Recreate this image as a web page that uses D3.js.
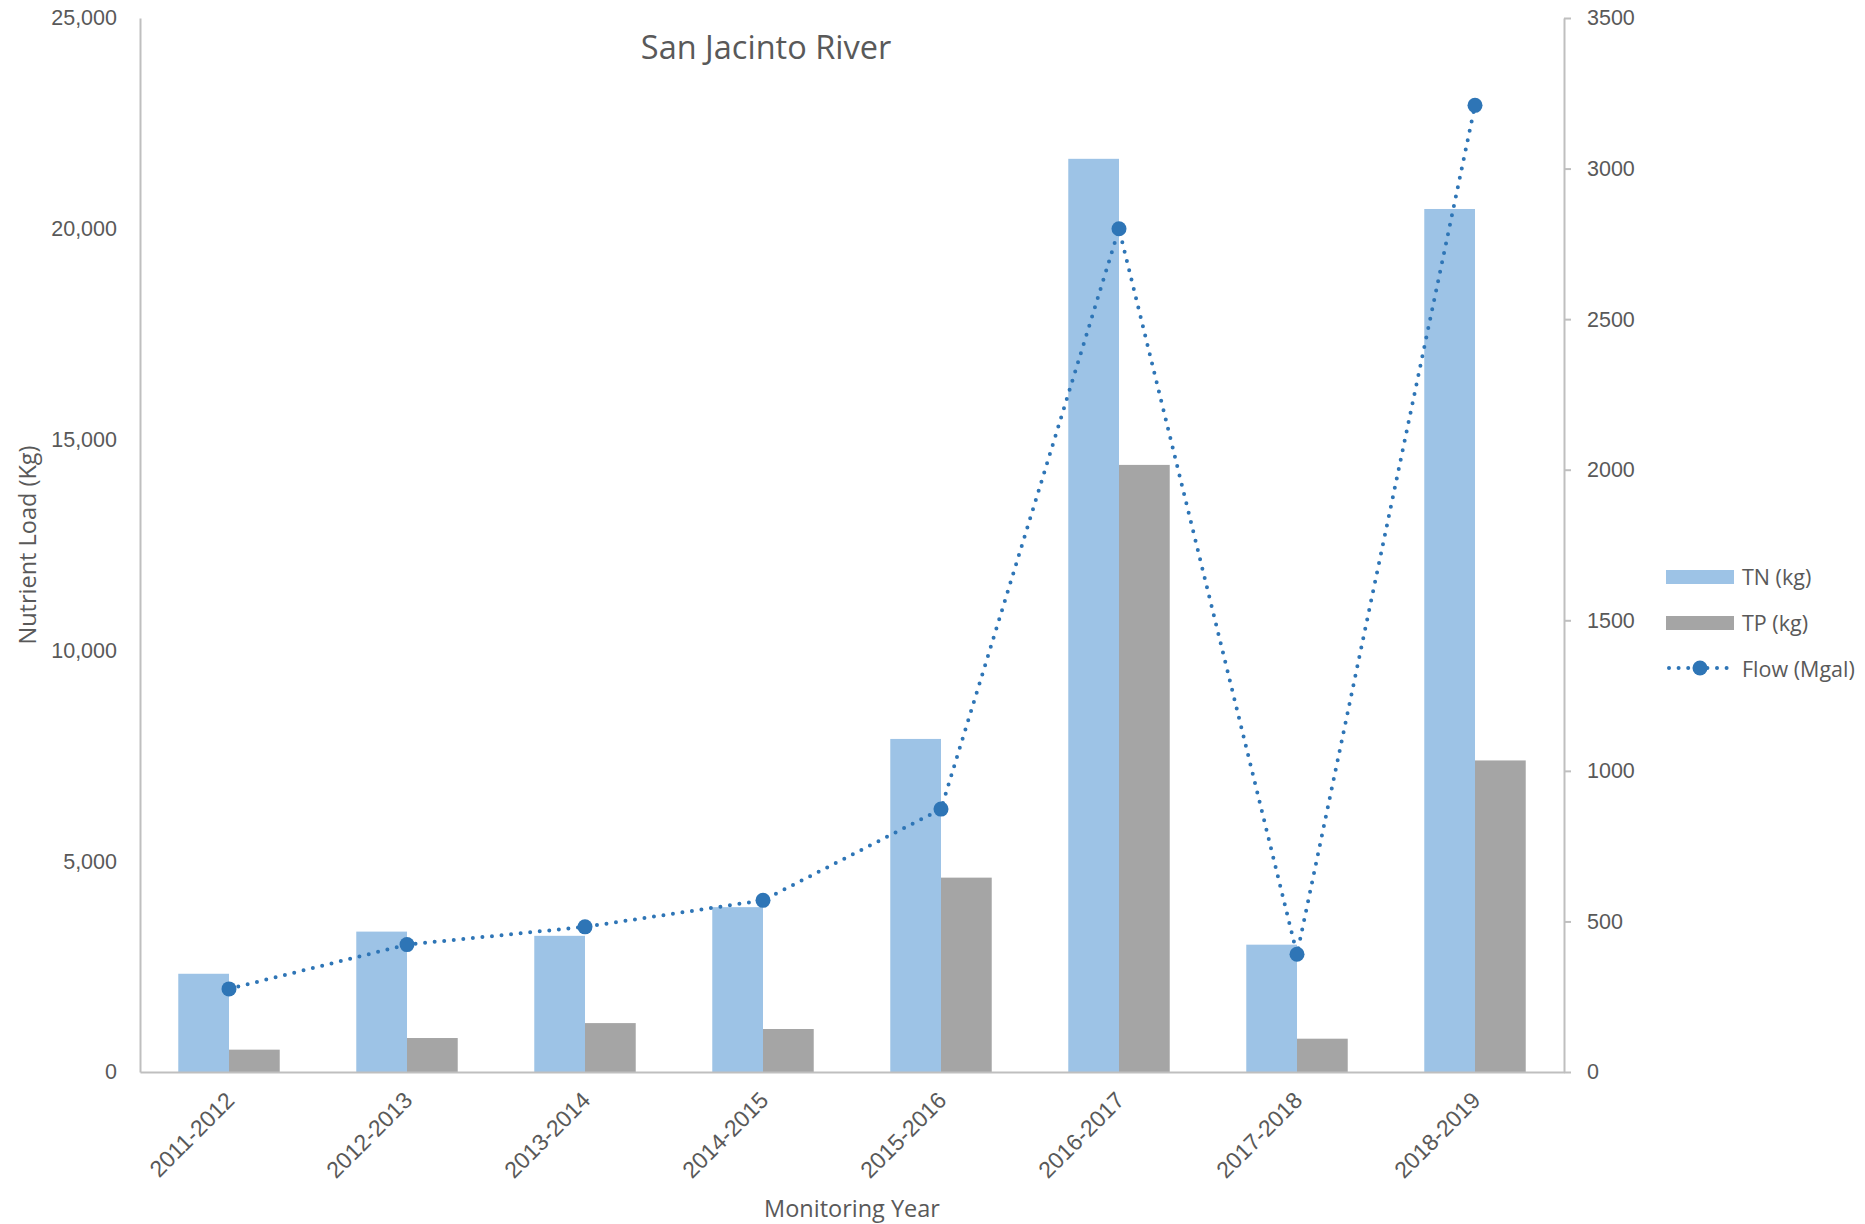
<!DOCTYPE html>
<html>
<head>
<meta charset="utf-8">
<script src="https://cdn.jsdelivr.net/npm/d3@7"></script>
<style>
  html, body { margin: 0; padding: 0; background: #fff; }
  svg { display: block; font-family: "Open Sans", "Segoe UI", sans-serif; }
</style>
</head>
<body>
<svg id="chart" width="1865" height="1224"></svg>
<script>
// Monitoring years and loads for the San Jacinto River
const years = ["2011-2012", "2012-2013", "2013-2014", "2014-2015", "2015-2016", "2016-2017", "2017-2018", "2018-2019"];
const tnKg = [2330, 3330, 3230, 3910, 7900, 21660, 3020, 20470];
const tpKg = [530, 806, 1160, 1020, 4610, 14400, 790, 7390];
const flowMgal = [276, 423, 482, 570, 873, 2800, 391, 3210];
const leftTicks = [0, 5000, 10000, 15000, 20000, 25000];
const rightTicks = [0, 500, 1000, 1500, 2000, 2500, 3000, 3500];
const seriesNames = ["TN (kg)", "TP (kg)", "Flow (Mgal)"];

const colors = { tn: "#9DC3E6", tp: "#A5A5A5", flow: "#2E75B6", axis: "#BFBFBF", text: "#595959" };

const svg = d3.select("#chart");
const plot = { left: 140, right: 1564, top: 18, bottom: 1072 };

const x = d3.scaleBand().domain(years).range([plot.left, plot.right]).paddingInner(0.43).paddingOuter(0.215);
const yLeft = d3.scaleLinear().domain([0, 25000]).range([plot.bottom, plot.top]);
const yRight = d3.scaleLinear().domain([0, 3500]).range([plot.bottom, plot.top]);
const half = x.bandwidth() / 2;

// Bars
const g = svg.append("g");
g.selectAll("rect.tn").data(years).join("rect")
  .attr("x", d => x(d)).attr("width", half)
  .attr("y", (d, i) => yLeft(tnKg[i])).attr("height", (d, i) => yLeft(0) - yLeft(tnKg[i]))
  .attr("fill", colors.tn);
g.selectAll("rect.tp").data(years).join("rect")
  .attr("x", d => x(d) + half).attr("width", half)
  .attr("y", (d, i) => yLeft(tpKg[i])).attr("height", (d, i) => yLeft(0) - yLeft(tpKg[i]))
  .attr("fill", colors.tp);

// Left axis (no tick marks)
const axL = svg.append("g").attr("transform", `translate(${plot.left},0)`)
  .call(d3.axisLeft(yLeft).tickValues(leftTicks).tickFormat(d3.format(",")).tickSize(0).tickPadding(23));
axL.select(".domain").attr("stroke", colors.axis).attr("stroke-width", 2);
axL.selectAll("text").attr("fill", colors.text).style("font-size", "21.5px");

// Right axis with outward ticks
const axR = svg.append("g").attr("transform", `translate(${plot.right},0)`)
  .call(d3.axisRight(yRight).tickValues(rightTicks).tickFormat(d3.format("d"))
    .tickSizeInner(7).tickSizeOuter(0).tickPadding(16));
axR.select(".domain").attr("stroke", colors.axis).attr("stroke-width", 2);
axR.selectAll(".tick line").attr("stroke", colors.axis).attr("stroke-width", 2);
axR.selectAll("text").attr("fill", colors.text).style("font-size", "21.5px");

// Bottom axis, labels rotated
const axB = svg.append("g").attr("transform", `translate(0,${plot.bottom})`)
  .call(d3.axisBottom(x).tickSize(0).tickSizeOuter(0));
axB.select(".domain").attr("stroke", colors.axis).attr("stroke-width", 2);
axB.selectAll("text")
  .attr("fill", colors.text).style("font-size", "23px")
  .attr("text-anchor", "end").attr("dy", "0.35em")
  .attr("transform", "translate(-1,22) rotate(-45)");

// Flow line (dotted) with markers
const line = d3.line().x((d, i) => x(years[i]) + half).y(d => yRight(d));
svg.append("path").datum(flowMgal)
  .attr("d", line).attr("fill", "none")
  .attr("stroke", colors.flow).attr("stroke-width", 4)
  .attr("stroke-linecap", "round").attr("stroke-dasharray", "0,9.6");
svg.selectAll("circle.flow").data(flowMgal).join("circle")
  .attr("cx", (d, i) => x(years[i]) + half).attr("cy", d => yRight(d))
  .attr("r", 7.5).attr("fill", colors.flow);

// Title and axis titles
svg.append("text").attr("x", 766).attr("y", 59).attr("text-anchor", "middle")
  .attr("fill", colors.text).style("font-size", "32.5px").text("San Jacinto River");
svg.append("text").attr("transform", "translate(36,545) rotate(-90)").attr("text-anchor", "middle")
  .attr("fill", colors.text).style("font-size", "23.5px").text("Nutrient Load (Kg)");
svg.append("text").attr("x", 852).attr("y", 1217).attr("text-anchor", "middle")
  .attr("fill", colors.text).style("font-size", "23.5px").text("Monitoring Year");

// Legend
const legend = svg.append("g").attr("transform", "translate(1666,577)");
legend.append("rect").attr("x", 0).attr("y", -7).attr("width", 68).attr("height", 14).attr("fill", colors.tn);
legend.append("rect").attr("x", 0).attr("y", 39).attr("width", 68).attr("height", 14).attr("fill", colors.tp);
legend.append("line").attr("x1", 3).attr("x2", 66).attr("y1", 91).attr("y2", 91)
  .attr("stroke", colors.flow).attr("stroke-width", 4).attr("stroke-linecap", "round").attr("stroke-dasharray", "0,9.6");
legend.append("circle").attr("cx", 34).attr("cy", 91).attr("r", 7.5).attr("fill", colors.flow);
legend.selectAll("text.leg").data(seriesNames).join("text")
  .attr("x", 76).attr("y", (d, i) => i * 46).attr("dy", "0.35em")
  .attr("fill", colors.text).style("font-size", "21.5px").text(d => d);
</script>
</body>
</html>
